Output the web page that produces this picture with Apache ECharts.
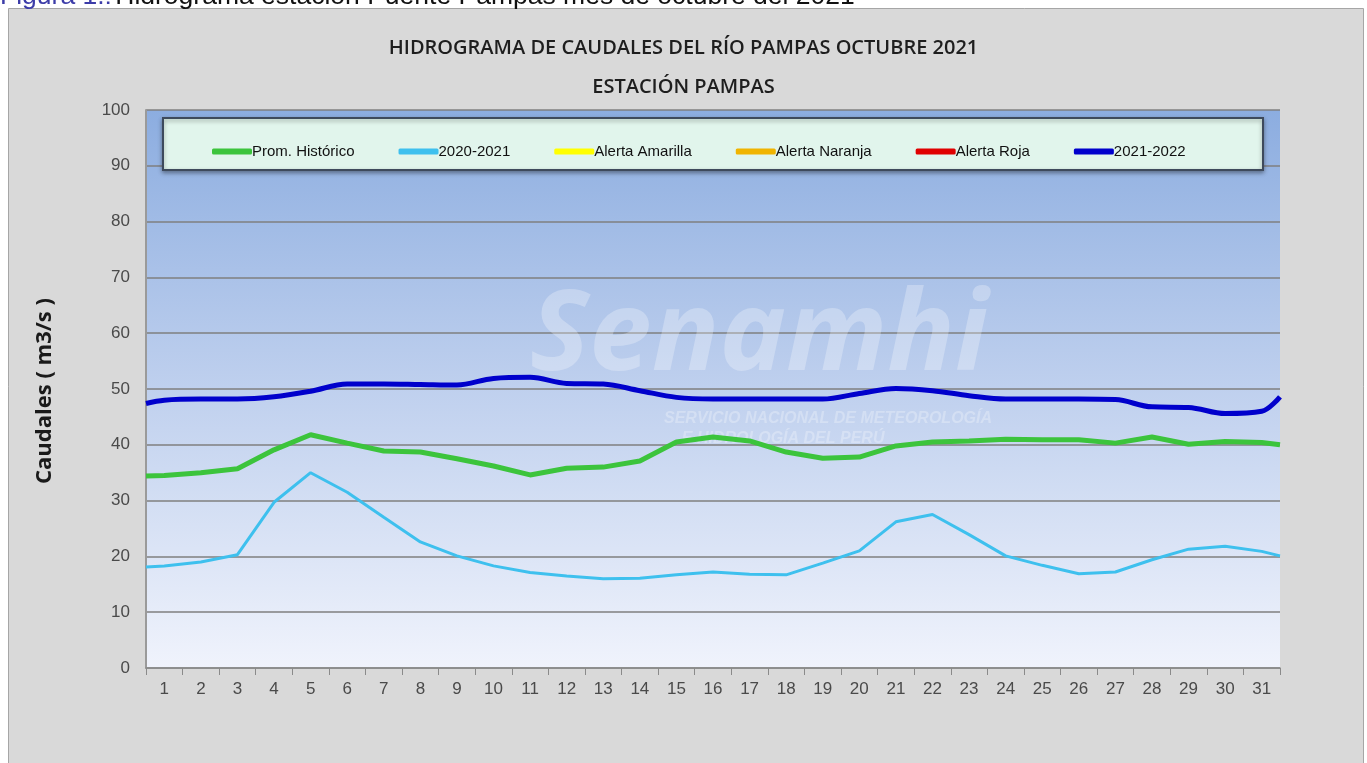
<!DOCTYPE html>
<html>
<head>
<meta charset="utf-8">
<script src="https://cdn.jsdelivr.net/npm/echarts@6/dist/echarts.min.js"></script>
<style>
  html, body { margin: 0; padding: 0; background: #fff; }
  #chart { width: 1367px; height: 763px; }
</style>
</head>
<body>
<div id="chart"></div>
<script>
// dias del mes de octubre
var dias = ['1','2','3','4','5','6','7','8','9','10','11','12','13','14','15','16',
  '17','18','19','20','21','22','23','24','25','26','27','28','29','30','31'];

// caudales (m3/s)
var promHistorico = [34.5, 35.0, 35.7, 39.1, 41.8, 40.3, 38.9, 38.7, 37.5, 36.2, 34.6,
  35.8, 36.0, 37.1, 40.5, 41.4, 40.7, 38.7, 37.6, 37.8, 39.8, 40.5, 40.7, 41.0, 40.9,
  40.9, 40.3, 41.4, 40.1, 40.6, 40.4];
var serie2020 = [18.3, 19.0, 20.3, 29.7, 35.0, 31.5, 27.0, 22.6, 20.1, 18.3, 17.1,
  16.5, 16.0, 16.1, 16.7, 17.2, 16.8, 16.7, 18.8, 21.0, 26.2, 27.5, 23.9, 20.1, 18.4,
  16.9, 17.2, 19.4, 21.3, 21.8, 20.9];
var serie2021 = [48.0, 48.2, 48.2, 48.6, 49.6, 50.9, 50.9, 50.8, 50.7, 51.9, 52.1,
  51.0, 50.9, 49.7, 48.5, 48.2, 48.2, 48.2, 48.2, 49.2, 50.1, 49.7, 48.8, 48.2, 48.2,
  48.2, 48.1, 46.8, 46.7, 45.6, 46.0];
// valores en los bordes del area (izq, der): prom, 2020-2021, 2021-2022
var bordeIzq = [34.4, 18.1, 47.4];
var bordeDer = [40.0, 20.1, 48.6];
var yTicks = [0, 10, 20, 30, 40, 50, 60, 70, 80, 90, 100];

function puntos(vals, k) {
  var out = [[0.5, bordeIzq[k]]];
  for (var i = 0; i < vals.length; i++) out.push([i + 1, vals[i]]);
  out.push([31.5, bordeDer[k]]);
  return out;
}

var chart = echarts.init(document.getElementById('chart'));
var option = {
  backgroundColor: '#ffffff',
  textStyle: { fontFamily: 'Liberation Sans, sans-serif' },
  graphic: [
    { type: 'rect', z: -10, shape: { x: 8.5, y: 8.5, width: 1355, height: 770 },
      style: { fill: '#d9d9d9', stroke: '#a6a6a6', lineWidth: 1 } },
    { type: 'text', left: 0, top: -17, z: 10,
      style: { rich: { a: { fill: '#3c3ca8', fontSize: 26.5, fontFamily: 'Liberation Sans' },
                       b: { fill: '#111', fontSize: 26.5, fontFamily: 'Liberation Sans' } },
               text: '{a|Figura 1.:} {b|Hidrograma estación Puente Pampas mes de octubre del 2021}' } },
    { type: 'text', left: 'center', top: 29, z: 10,
      style: { text: 'HIDROGRAMA DE CAUDALES DEL RÍO PAMPAS OCTUBRE 2021\nESTACIÓN PAMPAS',
               textAlign: 'center', fill: '#1e1e1e', fontSize: 20, lineHeight: 39,
               fontWeight: 600, fontFamily: 'Open Sans' } },
    { type: 'text', z: 10, x: 45, y: 391, rotation: Math.PI / 2,
      style: { text: 'Caudales ( m3/s )', textAlign: 'center', textVerticalAlign: 'middle',
               fill: '#1a1a1a', fontSize: 22, fontWeight: 'bold', fontFamily: 'Open Sans' } },
    // marca de agua
    { type: 'text', z: 1, x: 530, y: 338,
      style: { text: 'Senamhi', fill: 'rgba(255,255,255,0.28)', fontSize: 112,
               fontStyle: 'italic', fontWeight: 'bold', fontFamily: 'Open Sans',
               textVerticalAlign: 'middle' } },
    { type: 'text', z: 1, x: 664, y: 409,
      style: { text: 'SERVICIO NACIONAL DE METEOROLOGÍA\n    E HIDROLOGÍA DEL PERÚ', fill: 'rgba(255,255,255,0.28)',
               fontSize: 16, lineHeight: 20, fontStyle: 'italic', fontWeight: 'bold',
               fontFamily: 'Liberation Sans' } },
    // caja de la leyenda
    { type: 'rect', z: 3, shape: { x: 163, y: 118, width: 1100, height: 52 },
      style: { fill: '#e1f5ec', stroke: '#3e4a5c', lineWidth: 2,
               shadowBlur: 4, shadowOffsetY: 2, shadowColor: 'rgba(0,0,0,0.35)' } }
  ],
  legend: {
    left: 207, top: 139, z: 5,
    itemWidth: 40, itemHeight: 6, itemGap: 44, icon: 'roundRect',
    textStyle: { fontSize: 15, color: '#111', padding: [0, 0, 0, -5],
                 fontFamily: 'Liberation Sans' },
    data: ['Prom. Histórico', '2020-2021', 'Alerta Amarilla', 'Alerta Naranja', 'Alerta Roja', '2021-2022']
  },
  grid: {
    left: 146, right: 87, top: 110, bottom: 95, show: true,
    borderWidth: 0,
    backgroundColor: new echarts.graphic.LinearGradient(0, 0, 0, 1, [
      { offset: 0, color: '#8cade0' },
      { offset: 0.5, color: '#bfd0ee' },
      { offset: 1, color: '#f0f3fc' }
    ])
  },
  xAxis: [{
    type: 'category', data: dias, boundaryGap: true,
    axisLine: { lineStyle: { color: '#8a8a8a', width: 1.5 } },
    axisTick: { show: true, length: 7, lineStyle: { color: '#8a8a8a' } },
    axisLabel: { color: '#4a4a4a', fontSize: 17, margin: 13 },
    splitLine: { show: false }
  }, {
    type: 'value', min: 0.5, max: 31.5, show: false, splitLine: { show: false }
  }],
  yAxis: {
    type: 'value', min: yTicks[0], max: yTicks[yTicks.length - 1], interval: 10,
    axisLine: { show: true, lineStyle: { color: '#9a9a9a', width: 2 } },
    axisTick: { show: false },
    axisLabel: { color: '#4a4a4a', fontSize: 17, margin: 16 },
    splitLine: { lineStyle: { color: '#7f7f7f', width: 1.5 } }
  },
  series: [
    { name: 'Prom. Histórico', type: 'line', xAxisIndex: 1, data: puntos(promHistorico, 0),
      symbol: 'none', color: '#3cc43c', lineStyle: { width: 5 }, z: 3 },
    { name: '2020-2021', type: 'line', xAxisIndex: 1, data: puntos(serie2020, 1),
      symbol: 'none', color: '#3ec0ee', lineStyle: { width: 3 }, z: 3 },
    { name: 'Alerta Amarilla', type: 'line', xAxisIndex: 1, data: [], symbol: 'none', color: '#ffff00' },
    { name: 'Alerta Naranja', type: 'line', xAxisIndex: 1, data: [], symbol: 'none', color: '#f0b400' },
    { name: 'Alerta Roja', type: 'line', xAxisIndex: 1, data: [], symbol: 'none', color: '#e00000' },
    { name: '2021-2022', type: 'line', xAxisIndex: 1, data: puntos(serie2021, 2),
      symbol: 'none', smooth: 0.35, color: '#0000cc', lineStyle: { width: 5 }, z: 3 }
  ]
};
chart.setOption(option);
</script>
</body>
</html>
